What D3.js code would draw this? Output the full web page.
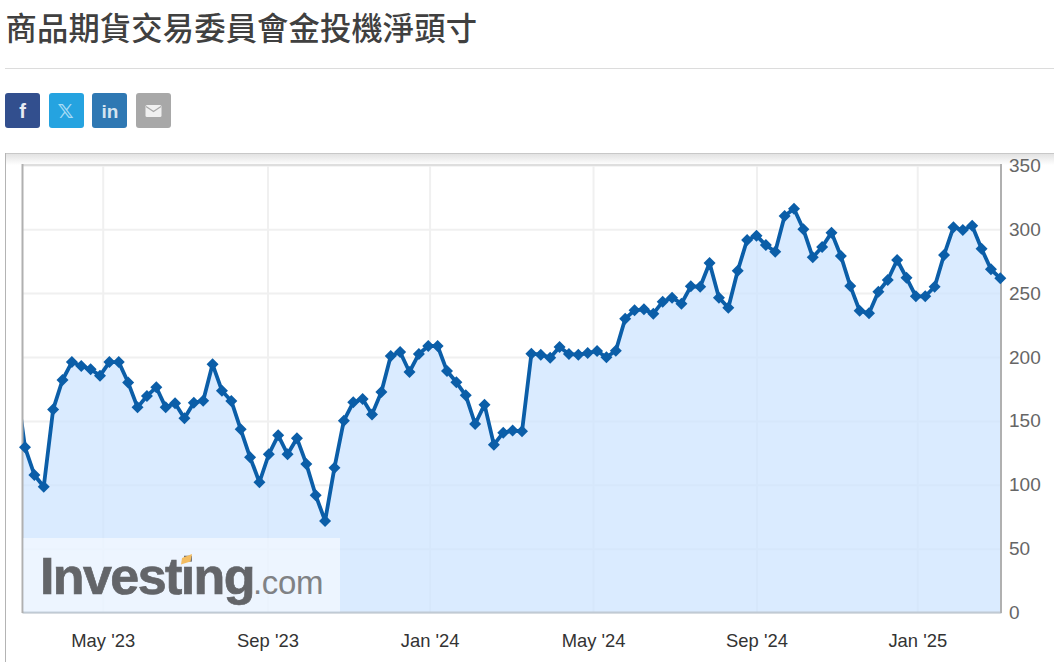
<!DOCTYPE html>
<html lang="zh-Hant">
<head>
<meta charset="utf-8">
<script src="https://cdn.jsdelivr.net/npm/d3@7/dist/d3.min.js"></script>
<style>
html,body{margin:0;padding:0;background:#fff;overflow:hidden}
svg{display:block}
text{font-family:"Liberation Sans",Arial,sans-serif}
</style>
</head>
<body>
<svg id="c" width="1054" height="662"></svg>
<script>
const titleText = "商品期貨交易委員會金投機淨頭寸";
const firstDate = "2023-02-24";
const lastDate = "2025-02-28";
const values = [183,
129.3,107.7,98.5,159,182,196,193,190.4,185.4,196,196,180,160.6,169.5,176.3,160.6,163.8,152,
164.2,165.8,194.3,173.6,165.6,143.4,121.5,102,123.9,138.7,123.9,136.4,116.3,91.8,71.7,113.4,150.2,
164.5,167.1,155.1,172.6,200.8,203.9,188.3,202.4,208.6,208.6,189,180.2,170,147.6,162.7,131.4,140.8,142.4,141.9,
202.6,201.8,199.5,207.8,202.3,201.8,203.1,204.7,199.8,204.9,230,236.5,237.3,233.9,243.3,246.4,241.7,255.3,255,273.6,246.4,
238.6,267.5,291.5,294.9,287.6,282.4,310.3,316,299.9,278,286.1,297.3,279,255.6,236.2,234.2,251.1,
260.3,275.9,262,247.5,247.5,255,279.8,301.5,299.4,302.7,284.7,268.6,261.6];
const xTickDates = ["2023-04-30","2023-08-31","2023-12-30","2024-04-30","2024-08-30","2024-12-28"];
const xTickLabels = ["May '23","Sep '23","Jan '24","May '24","Sep '24","Jan '25"];
const yTicks = [0,50,100,150,200,250,300,350];

const parse = d3.utcParse("%Y-%m-%d");
const dates = d3.utcFriday.range(parse(firstDate), d3.utcDay.offset(parse(lastDate), 1));
const data = dates.map((d,i)=>({date:d, value:values[i]}));

const plot = {l:22.5, r:1001, t:165, b:612.6};
const x = d3.scaleUtc().domain([parse("2023-03-03"), parse(lastDate)]).range([25, 1000.3]);
const y = d3.scaleLinear().domain([0,350]).range([plot.b, plot.t+0.3]);

const svg = d3.select("#c");
const defs = svg.append("defs");
const g0 = defs.append("linearGradient").attr("id","shade").attr("x1",0).attr("x2",0).attr("y1",0).attr("y2",1);
g0.append("stop").attr("offset",0).attr("stop-color","#e2e2e2");
g0.append("stop").attr("offset",1).attr("stop-color","#ffffff");
defs.append("clipPath").attr("id","plotclip").append("rect")
  .attr("x",plot.l).attr("y",plot.t).attr("width",plot.r-plot.l).attr("height",plot.b-plot.t);

// Title and page furniture
svg.append("text").attr("x",5.5).attr("y",40).text(titleText)
  .style("font-family",'"Noto Sans CJK TC","Noto Sans CJK SC",sans-serif')
  .style("font-size","31.3px").style("font-weight","500").style("letter-spacing","0.15px").style("fill","#404040");
svg.append("line").attr("x1",5).attr("x2",1054).attr("y1",68.5).attr("y2",68.5).attr("stroke","#dcdcdc");

const social = [{x:5,c:"#324f8e"},{x:49,c:"#25a3e0"},{x:92,c:"#2f78b3"},{x:136,c:"#a8a8a8"}];
svg.selectAll("rect.soc").data(social).join("rect").attr("class","soc")
  .attr("x",d=>d.x).attr("y",93).attr("width",35).attr("height",35).attr("rx",3).attr("fill",d=>d.c);
svg.append("text").attr("x",22.5).attr("y",118).attr("text-anchor","middle").text("f")
  .style("font-size","20px").style("font-weight","bold").style("fill","#e8ecf4");
svg.append("text").attr("x",65.5).attr("y",118).attr("text-anchor","middle").text("𝕏")
  .style("font-family",'"DejaVu Sans",sans-serif').style("font-size","20px").style("font-weight","bold").style("fill","#a8dcf5");
svg.append("text").attr("x",110).attr("y",118).attr("text-anchor","middle").text("in")
  .style("font-size","19px").style("font-weight","bold").style("fill","#d5e4f0");
svg.append("rect").attr("x",145.5).attr("y",105).attr("width",16).attr("height",12).attr("rx",1.5).attr("fill","#f0f0f0");
svg.append("path").attr("d","M146 106.5 L153.5 111.5 L161 106.5").attr("fill","none").attr("stroke","#a8a8a8").attr("stroke-width",1.2);

// Chart frame
svg.append("rect").attr("x",6).attr("y",154).attr("width",1048).attr("height",11).attr("fill","url(#shade)");
svg.append("line").attr("x1",5).attr("x2",1054).attr("y1",153.5).attr("y2",153.5).attr("stroke","#c8c8c8");
svg.append("line").attr("x1",5.5).attr("x2",5.5).attr("y1",153).attr("y2",662).attr("stroke","#b4b4b4");

// Grid
const gridY = svg.append("g").attr("class","gy").attr("transform",`translate(${plot.l},0)`)
  .call(d3.axisRight(y).tickValues(yTicks).tickSize(plot.r-plot.l).tickFormat(""));
const gridX = svg.append("g").attr("class","gx").attr("transform",`translate(0,${plot.t})`)
  .call(d3.axisBottom(x).tickValues(xTickDates.map(parse)).tickSize(plot.b-plot.t).tickFormat(""));
svg.selectAll(".gy .domain,.gx .domain").remove();
svg.selectAll(".gy line,.gx line").attr("stroke","#f0f0f0").attr("stroke-width",2);

// Plot borders
svg.append("line").attr("x1",plot.l).attr("x2",plot.r).attr("y1",165).attr("y2",165).attr("stroke","#dedede").attr("stroke-width",2);

// Series
const layer = svg.append("g").attr("clip-path","url(#plotclip)");
layer.append("path").datum(data)
  .attr("d",d3.area().x(d=>x(d.date)).y0(y(0)).y1(d=>y(d.value)))
  .attr("fill","rgba(205,228,255,0.75)");
svg.append("line").attr("x1",plot.l).attr("x2",plot.r+0.5).attr("y1",612.5).attr("y2",612.5).attr("stroke","#c0cad4").attr("stroke-width",2);
svg.append("line").attr("x1",22.5).attr("x2",22.5).attr("y1",164).attr("y2",613).attr("stroke","#b0b0b0").attr("stroke-width",2);
svg.append("line").attr("x1",1001).attr("x2",1001).attr("y1",164).attr("y2",613).attr("stroke","#b0b0b0").attr("stroke-width",2);
layer.append("path").datum(data)
  .attr("d",d3.line().x(d=>x(d.date)).y(d=>y(d.value)))
  .attr("fill","none").attr("stroke","#0b5ea8").attr("stroke-width",3.8).attr("stroke-linejoin","round");
const sym = d3.symbol(d3.symbolSquare, 72);
svg.selectAll("path.pt").data(data.slice(1)).join("path").attr("class","pt")
  .attr("d",sym)
  .attr("transform",d=>`translate(${x(d.date)},${y(d.value)}) rotate(45)`)
  .attr("fill","#0b5ea8");

// Axis labels
const yAxis = svg.append("g").attr("class","ya").attr("transform","translate(1009,0)")
  .call(d3.axisRight(y).tickValues(yTicks).tickSize(0).tickPadding(0));
yAxis.select(".domain").remove();
yAxis.selectAll("text").style("font-size","19px").style("fill","#666").style("font-family",'"Liberation Sans",Arial,sans-serif');
const labelFor = new Map(xTickDates.map((d,i)=>[+parse(d), xTickLabels[i]]));
const xAxis = svg.append("g").attr("class","xa").attr("transform","translate(0,634)")
  .call(d3.axisBottom(x).tickValues(xTickDates.map(parse)).tickSize(0).tickPadding(0).tickFormat(d=>labelFor.get(+d)));
xAxis.select(".domain").remove();
xAxis.selectAll("text").style("font-size","18.4px").style("fill","#333").style("font-family",'"Liberation Sans",Arial,sans-serif');

// Watermark
svg.append("rect").attr("x",23.5).attr("y",538).attr("width",316.5).attr("height",73.5).attr("fill","#fff").attr("fill-opacity",0.5);
svg.append("text").attr("x",40).attr("y",594).text("Investing")
  .style("font-size","52px").style("font-weight","bold").style("letter-spacing","-1.6px")
  .style("fill","#636569").style("stroke","#636569").style("stroke-width","0.7px");
svg.append("text").attr("x",253).attr("y",594).text(".com")
  .style("font-size","33px").style("fill","#808285").style("letter-spacing","-0.3px");
svg.append("path").attr("d","M182 558 L192 554 L190.5 561.5 L181 564.5 Z").attr("fill","#f3bd62");
</script>
</body>
</html>
